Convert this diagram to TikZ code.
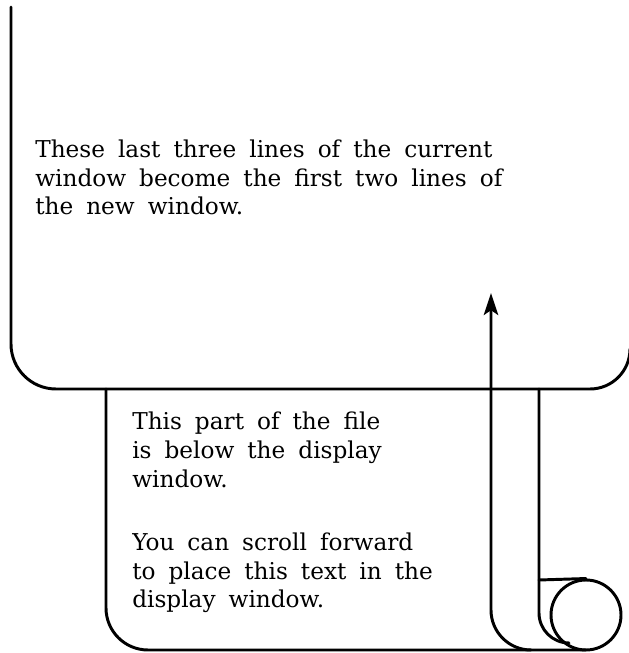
\documentclass[tikz,border=0pt]{standalone}
\usepackage{fontspec}
\newfontfamily\notefont{DejaVu Serif}
\usepackage{tikz}
\usetikzlibrary{arrows.meta}
\newcommand{\widespaces}{\spaceskip=0.56em plus 0.1em\relax}
\tikzset{
  outline/.style={line width=2.1pt, line join=round, line cap=round},
  noteline/.style={font=\notefont\fontsize{16.5}{20.6}\selectfont\widespaces,
    align=left, inner sep=0pt, anchor=base west},
  scrollarrow/.style={outline, -{Stealth[length=0.55cm, width=0.36cm, inset=0.12cm]}},
}
\begin{document}
\begin{tikzpicture}[x=0.025cm, y=0.025cm]
\useasboundingbox (0,0) rectangle (629,653);
\clip (0,0) rectangle (629,653);
% display window
\draw[outline] (11,646) -- (11,309) arc[start angle=180, end angle=270, radius=45]
  -- (590,264) arc[start angle=270, end angle=360, radius=40];
% file below the window
\draw[outline] (106,264) -- (106,45) arc[start angle=180, end angle=270, radius=42]
  -- (586,3);
\draw[outline] (539,264) -- (539,40) arc[start angle=180, end angle=270, radius=30];
\node[outline, draw, circle, minimum size=70*0.025cm, inner sep=0pt] (roll) at (586,38) {};
\coordinate (rolljoin) at (539,73);
\draw[outline] (rolljoin) -- (roll.north);
% scroll direction
\coordinate (arrowtail) at (531,3);
\coordinate (arrowtip) at (491,360);
\draw[scrollarrow] (arrowtail) arc[start angle=270, end angle=180, radius=40] -- (arrowtip);
% texts (base = last line)
\node[noteline] (winnote) at (35,438) {These last three lines of the current\\
  window become the first two lines of\\the new window.};
\node[noteline] (filenote) at (132,45) {This part of the file\\is below the display\\window.\\[24pt]
  You can scroll forward\\to place this text in the\\display window.};
\end{tikzpicture}
\end{document}
